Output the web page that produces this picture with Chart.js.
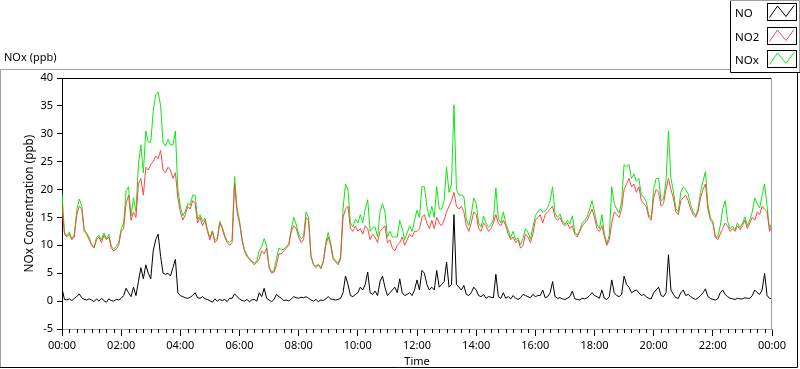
<!DOCTYPE html>
<html>
<head>
<meta charset="utf-8">
<script src="https://cdn.jsdelivr.net/npm/chart.js@4.4.1/dist/chart.umd.min.js"></script>
<style>
html,body{margin:0;padding:0;background:#fff;}
#wrap{position:relative;width:800px;height:369px;overflow:hidden;}
canvas{display:block;}
</style>
</head>
<body>
<div id="wrap"><canvas id="c" width="800" height="369"></canvas></div>
<script>
// ---------- DATA (5-minute samples, 00:00 .. 24:00) ----------
const seriesNames = ['NO', 'NO2', 'NOx'];
const xTickLabels = ['00:00','02:00','04:00','06:00','08:00','10:00','12:00','14:00','16:00','18:00','20:00','22:00','00:00'];
const yTickValues = [-5, 0, 5, 10, 15, 20, 25, 30, 35, 40];
const sampleMinutes = 5;

const noValues = [
  2.3,0.3,0.2,0.4,0.1,0.5,0.8,1.3,0.6,0.3,0.2,0.4,
  0.2,-0.1,0.4,0,0.5,0.1,-0.2,0.4,0.1,0,0.3,0.2,
  0.5,1,2.3,1.5,0.8,2.5,1,3.5,6,4,6.5,5,
  4,9,11,12,8,5,4.8,5,4.5,6,7.5,1.5,
  1,0.8,0.6,0.5,0.7,1,1.5,0.6,0.5,0.8,0.4,0.3,
  0.1,-0.2,0.4,0,0.3,0.1,0.3,-0.1,0.5,0.5,1.3,0.8,
  0.4,0.1,0,0.3,-0.1,0.2,0.3,0,1.5,0.8,2.3,0.5,
  0.2,-0.1,0.3,1.2,0.8,0.5,0.1,0.2,0,0.4,0.8,0.6,
  0.5,0.7,0.6,0.8,0.5,0.2,0,0.3,-0.1,0.2,0.1,0.4,
  0.8,0.4,0.3,0.2,0.3,0.5,1.5,4.5,3,1,0.8,1.2,
  1.5,2.5,2,3,5.2,1.5,1.2,1.8,1,3.5,4.5,2.5,
  1,1.5,2,2.5,1.5,4,1.5,1,1.2,1.5,1,2,
  3.8,2,5.5,5,3,2,2.5,2,5.5,2.5,3,3.5,
  7,2.5,3,15.5,3,2.5,2,2.8,1.2,1,1.5,2.5,
  2,1,0.8,1.2,0.5,0.8,0.7,0.6,4.8,0.8,0.5,1.5,
  0.5,0.8,0.4,1,0.5,0.3,0.6,1.2,1,0.8,0.6,1.2,
  0.8,1,1,2,0.6,0.8,1.5,3.5,0.8,0.5,0.6,0.4,
  0.3,0.5,0.8,1.8,0.4,0.3,0.2,0.5,0.4,0.6,1,1.5,
  1,0.8,0.5,2,0.5,0.3,0.8,3.8,1.5,1,0.8,1.2,
  4.5,3,2.5,1.5,1.8,2,1.5,1,1.2,0.8,0.5,0.4,
  1.5,2,2.5,1,0.8,1.5,8.3,2,1.2,0.6,0.5,1.5,
  2,1,1.2,0.8,0.5,0.3,0.6,1,1.5,2.2,0.8,0.5,
  0.3,0.2,0.4,1.5,2,1.2,0.8,0.5,0.4,0.3,0.5,0.4,
  0.4,0.6,0.5,0.5,1,2,1.5,1.2,2,5,1,0.5,
  0.4
];

const no2Values = [
  17,12,11.5,12,11,11.5,15.5,17,16.5,12.5,12,11,
  10,9.5,11,11.5,10.5,11.8,11,11.5,9.5,9,9.3,10,
  12.5,13,17.5,19,14.5,16,15,21,22,19,24,23.5,
  24.5,25,26,25.5,27,23.5,23,24,23.5,22,23,18.5,
  16,14.5,15.5,17,16.5,18,17.5,14,15,13.5,14.5,12.5,
  11,12.5,10.5,11,14,13,11.5,10.5,10,10.5,21,16,
  14,11,9,8,7.5,7,6.5,7,7.5,9,8.5,9.5,
  6,5,5.2,6.5,8.5,8.5,9,9.5,10,12.5,13.5,13,
  11.5,10.5,11,15,14.5,8,6.5,6,6.5,5.8,7,10,
  11.5,10,7.5,7,6.5,7.5,15,16.5,17,13,12.5,13.5,
  12.5,13,12,13.5,13,11,12,11.5,10.5,12.5,13,13.5,
  10.5,11,9.5,9,10,10.5,11.5,10,11,12,11.5,12.5,
  12.5,13,15,15.5,14,13,14.5,13,15,14,13.5,14.5,
  16,17,18,19.5,17,16.5,17,16,13.5,12.5,14,16,
  15.5,13,12.5,14,13.5,12.5,13,14,15.5,14,13.5,14.5,
  13.5,12,11,11.5,10.5,11,9.5,10,12,11.5,10.5,12,
  14.5,15,15.5,14,15.5,16,16.5,17,15,14.5,15,14,
  13.5,14,13,13.5,12,11.5,12.5,13.5,14,14.5,15.5,16.5,
  15,13,12.5,13.5,11.5,10,11,14,16,15.5,15,16.5,
  20,21,22,20.5,21,19.5,20.5,18,17.5,17,15,14.5,
  18.5,20,19.5,17,17.5,20,22,20,18.5,16,15.5,18,
  18.5,19,18,16.5,15.5,15,16,18.5,20,21,16.5,14.5,
  14,11.5,11,12,13,14,13.5,12.5,13,12.5,13.5,12.8,
  13.5,14.5,13,14,15,14.5,16,15.5,17,16.5,16,12.5,
  13.5
];

const noxValues = [
  19.3,12.3,11.7,12.4,11.1,12,16.3,18.3,17.1,12.8,12.2,11.4,
  10.2,9.6,11.4,11.8,11,12.2,11.2,12,9.8,9.3,9.8,10.5,
  13,14,19.8,20.5,15.3,18.5,16,24.5,28,23,30.5,28.5,
  28.5,34,37,37.5,35,28.5,27.8,29,28,28,30.5,20,
  17,15.3,16.1,17.5,17.2,19,19,14.6,15.5,14.3,14.9,12.8,
  11.4,12.6,10.9,11.3,14.3,13.3,11.8,10.7,10.5,11,22.3,16.8,
  14.4,11.3,9.2,8.3,7.6,7.2,6.8,7.2,9,9.8,11.2,10,
  6.2,5.2,5.5,7.7,9.5,9.2,9.3,9.8,10.3,12.9,15,13.8,
  12,11.2,11.6,16,15,8.2,6.6,6.3,6.6,6,7.2,10.5,
  12.3,10.4,7.8,7.2,6.8,8,16.5,21,20,14,13.3,14.7,
  14,15.5,14,16.5,18.2,12.5,13.2,13.3,11.5,16,17.5,16,
  11.5,12.5,11.5,11.5,11.5,14.5,13,11,12.2,13.5,12.5,14.5,
  16.3,15,20.5,20.5,17,15,17,15,20.5,16.5,16.5,18,
  24,19.5,21,35.2,20,19,19,18.8,14.7,13.5,15.5,18.5,
  17.5,14,13.3,15.2,14,13.3,13.7,14.6,20.3,14.8,14,16,
  14,12.8,11.4,12.5,11,11.3,10.1,11.2,13,12.3,11.1,13.2,
  15.3,16,16.5,16,16.1,16.8,18,20.5,15.8,15,15.6,14.4,
  13.8,14.5,13.8,15.3,12.4,11.8,12.7,14,14.4,15.1,16.5,18,
  16,13.8,13,15.5,12,10.3,11.8,20.5,17.5,16.5,15.8,17.7,
  24.5,24,24.5,22,22.8,21.5,22,19,18.7,17.8,15.5,14.9,
  20,22,22,18,18.3,21.5,30.5,22,19.7,16.6,16,19.5,
  20.5,20,19.2,17.3,16,15.3,16.6,19.5,21.5,23.2,17.3,15,
  14.3,11.7,11.4,13.5,16.5,18,14.3,13,13.4,12.8,14,13.2,
  13.9,15.1,13.5,14.5,16,18.5,17.5,16.7,19,21,17,13,
  14
];

// ---------- CHART ----------
const FONT = '"Noto Sans", "DejaVu Sans", sans-serif';
const colors = { NO: '#000000', NO2: '#ff4646', NOx: '#11e611' };
const toPoints = arr => arr.map((v, i) => ({ x: i * sampleMinutes / 60, y: v }));

// size the y-axis name so that it spans about the same length as in the reference
const yTitleText = 'NOx Concentration (ppb)';
const measureCtx = document.createElement('canvas').getContext('2d');
measureCtx.font = '12px ' + FONT;
const yTitleSize = Math.max(11, Math.min(15, 12 * 138 / measureCtx.measureText(yTitleText).width));

const framePlugin = {
  id: 'frame',
  beforeDraw(chart) {
    const ctx = chart.ctx;
    ctx.save();
    ctx.fillStyle = '#fff';
    ctx.fillRect(0, 0, chart.width, chart.height);
    ctx.lineWidth = 1;
    ctx.strokeStyle = '#a0a0a0';
    ctx.beginPath();
    ctx.moveTo(0.5, 367); ctx.lineTo(0.5, 69.5); ctx.lineTo(730, 69.5);
    ctx.stroke();
    ctx.strokeStyle = '#000';
    ctx.beginPath();
    ctx.moveTo(0, 367.5); ctx.lineTo(797.5, 367.5); ctx.lineTo(797.5, 72);
    ctx.stroke();
    ctx.fillStyle = '#000';
    ctx.font = '11px ' + FONT;
    ctx.textBaseline = 'middle';
    ctx.textAlign = 'left';
    ctx.fillText('NOx (ppb)', 4, 58);
    ctx.restore();
  },
  afterDraw(chart) {
    const ctx = chart.ctx;
    const a = chart.chartArea;
    const xs = chart.scales.x;
    ctx.save();
    ctx.lineWidth = 1;
    ctx.strokeStyle = '#000';
    ctx.beginPath();
    ctx.moveTo(a.left, a.top + 0.5); ctx.lineTo(a.right, a.top + 0.5);
    ctx.stroke();
    ctx.strokeStyle = '#a0a0a0';
    ctx.beginPath();
    ctx.moveTo(a.right - 0.5, a.top); ctx.lineTo(a.right - 0.5, a.bottom);
    ctx.stroke();
    // minor x ticks every 15 minutes
    ctx.strokeStyle = '#000';
    ctx.beginPath();
    for (let q = 1; q < 96; q++) {
      if (q % 8 === 0) continue;
      const px = Math.round(xs.getPixelForValue(q / 4)) + 0.5;
      ctx.moveTo(px, a.bottom); ctx.lineTo(px, a.bottom + 4);
    }
    ctx.stroke();
    // legend box
    const lx = 730;
    ctx.fillStyle = '#fff';
    ctx.fillRect(lx, 0, 70, 72);
    ctx.strokeStyle = '#000';
    ctx.beginPath();
    ctx.moveTo(lx + 0.5, 0); ctx.lineTo(lx + 0.5, 72.5); ctx.lineTo(800, 72.5);
    ctx.stroke();
    ctx.strokeStyle = '#a0a0a0';
    ctx.beginPath();
    ctx.moveTo(lx, 0.5); ctx.lineTo(799.5, 0.5); ctx.lineTo(799.5, 72);
    ctx.stroke();
    ctx.font = '11.5px ' + FONT;
    ctx.textBaseline = 'middle';
    ctx.textAlign = 'left';
    seriesNames.forEach((name, i) => {
      const ry = Math.round(3 + 23.5 * i);
      ctx.fillStyle = '#000';
      ctx.fillText(name, 735, ry + 11);
      const bx = 767, bw = 29, bh = 17;
      ctx.strokeStyle = '#000';
      ctx.strokeRect(bx + 0.5, ry + 0.5, bw, bh);
      ctx.strokeStyle = colors[name];
      ctx.beginPath();
      ctx.moveTo(bx + 2.5, ry + 14.5);
      ctx.lineTo(bx + 10.5, ry + 3);
      ctx.lineTo(bx + 19, ry + 13.5);
      ctx.lineTo(bx + 27, ry + 2.5);
      ctx.stroke();
    });
    ctx.restore();
  }
};

new Chart(document.getElementById('c'), {
  type: 'line',
  data: {
    datasets: [
      { label: 'NO', data: toPoints(noValues), borderColor: colors.NO, order: 0 },
      { label: 'NO2', data: toPoints(no2Values), borderColor: colors.NO2, order: 1 },
      { label: 'NOx', data: toPoints(noxValues), borderColor: colors.NOx, order: 2 }
    ]
  },
  options: {
    responsive: false,
    animation: false,
    devicePixelRatio: 1,
    layout: { padding: { top: 78, right: 28, left: 0, bottom: 0 } },
    elements: {
      point: { radius: 0 },
      line: { borderWidth: 1, tension: 0, fill: false }
    },
    plugins: { legend: { display: false }, tooltip: { enabled: false } },
    scales: {
      x: {
        type: 'linear', min: 0, max: 24,
        ticks: {
          stepSize: 2, autoSkip: false, maxRotation: 0, minRotation: 0,
          color: '#000', padding: 3,
          font: { family: FONT, size: 11 },
          callback: v => xTickLabels[Math.round(v / 2)]
        },
        grid: { drawOnChartArea: false, drawTicks: true, tickLength: 7, tickColor: '#000' },
        border: { display: true, color: '#a0a0a0' },
        title: { display: true, text: 'Time', color: '#000', font: { family: FONT, size: 11 }, padding: { top: 0, bottom: 1 } },
        afterFit(s) { s.height = 40; }
      },
      y: {
        type: 'linear', min: -5, max: 40,
        afterBuildTicks(s) { s.ticks = yTickValues.map(v => ({ value: v })); },
        ticks: { color: '#000', padding: 4, font: { family: FONT, size: 11 } },
        grid: { drawOnChartArea: false, drawTicks: true, tickLength: 5, tickColor: '#000' },
        border: { display: true, color: '#000' },
        title: { display: true, text: yTitleText, color: '#000', font: { family: FONT, size: yTitleSize }, padding: { top: 30 - yTitleSize * 0.6, bottom: 0 } },
        afterFit(s) { s.width = 62; }
      }
    }
  },
  plugins: [framePlugin]
});
</script>
</body>
</html>
